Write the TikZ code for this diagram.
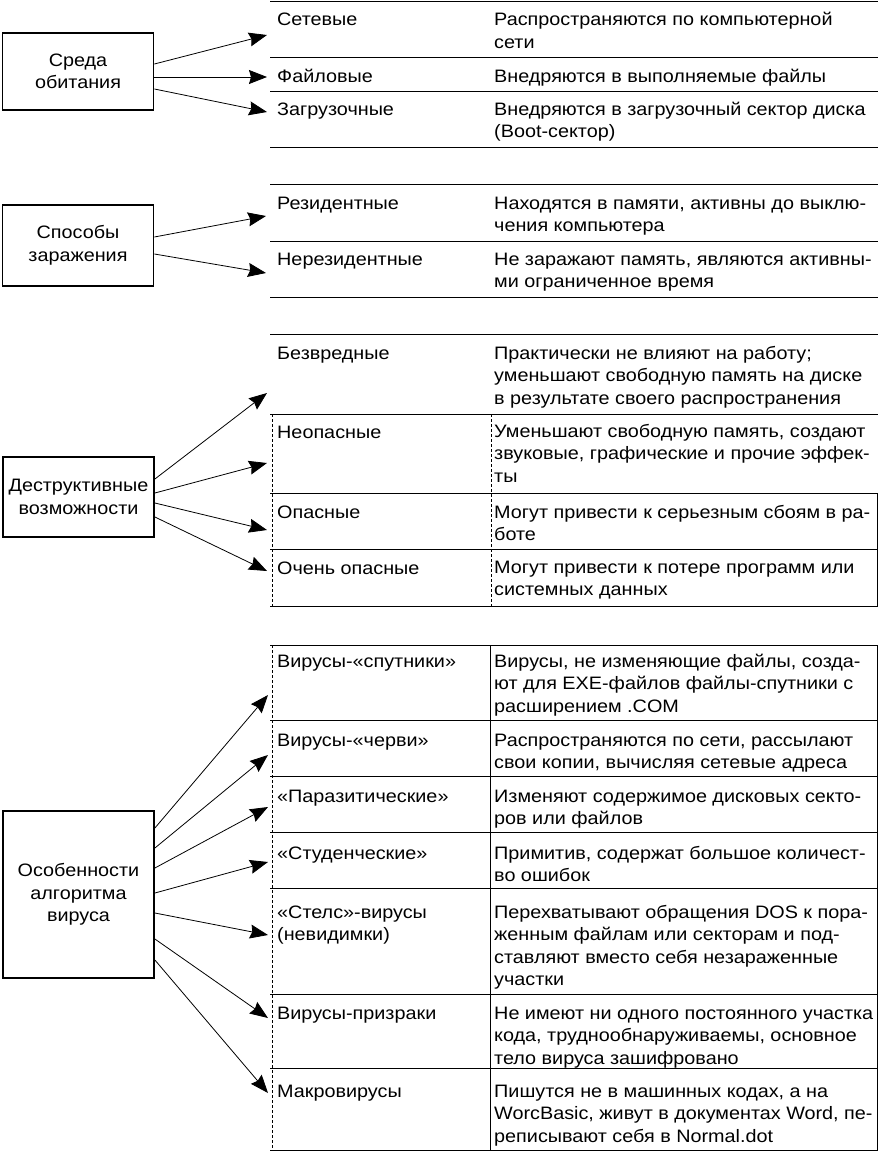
\documentclass[tikz,border=0pt]{standalone}
\usepackage{fontspec}
\setmainfont{Liberation Sans}[FakeStretch=1.1]
\usetikzlibrary{arrows.meta}
\newcommand\rws[1]{\begin{tabular}[t]{@{}l@{}}#1\end{tabular}}
\begin{document}
\begin{tikzpicture}[x=1pt,y=-1pt,
  every node/.style={font=\fontsize{18}{22.5}\selectfont, inner sep=0pt},
  catbox/.style={draw, line width=1.8pt, align=center, minimum width=151pt},
  lbl/.style={anchor=base west},
  rule/.style={line width=1pt},
  vrule/.style={line width=0.8pt},
  vdash/.style={line width=0.7pt, dash pattern=on 3pt off 2pt},
  conn/.style={line width=0.8pt, -{Stealth[length=18pt,width=14pt,inset=2pt]}},
]
\useasboundingbox (0,0) rectangle (881,1156);

% ---------------- Section 1
\node[catbox, minimum height=77pt] (env) at (78,71.5) {Среда\\обитания};
\foreach \y in {2,58,91,147} \draw[rule] (270,\y) -- (878,\y);
\node[lbl] (a1) at (277,26) {Сетевые};
\node[lbl] (a1d) at (494,26) {\rws{Распространяются по компьютерной\\сети}};
\node[lbl] (a2) at (277,82) {Файловые};
\node[lbl] (a2d) at (494,82) {\rws{Внедряются в выполняемые файлы}};
\node[lbl] (a3) at (277,115) {Загрузочные};
\node[lbl] (a3d) at (494,115) {\rws{Внедряются в загрузочный сектор диска\\(Boot-сектор)}};
\coordinate (ta1) at (267,35);
\coordinate (ta2) at (267,77);
\coordinate (ta3) at (267,112);
\draw[conn] ([yshift=7.5pt]env.east) -- (ta1);
\draw[conn] ([yshift=-5.5pt]env.east) -- (ta2);
\draw[conn] ([yshift=-17.5pt]env.east) -- (ta3);

% ---------------- Section 2
\node[catbox, minimum height=81pt] (inf) at (78,245.5) {Способы\\заражения};
\foreach \y in {184,241,297} \draw[rule] (270,\y) -- (878,\y);
\node[lbl] (b1) at (277,209) {Резидентные};
\node[lbl] (b1d) at (494,209) {\rws{Находятся в памяти, активны до выклю-\\чения компьютера}};
\node[lbl] (b2) at (277,265) {Нерезидентные};
\node[lbl] (b2d) at (494,265) {\rws{Не заражают память, являются активны-\\ми ограниченное время}};
\coordinate (tb1) at (266,216);
\coordinate (tb2) at (266,273);
\draw[conn] ([yshift=8.5pt]inf.east) -- (tb1);
\draw[conn] ([yshift=-8.5pt]inf.east) -- (tb2);

% ---------------- Section 3
\node[catbox, minimum height=80pt] (des) at (78.5,497) {Деструктивные\\возможности};
\foreach \y in {334,414,493,549,606} \draw[rule] (270,\y) -- (878,\y);
\draw[vdash] (272,414) -- (272,606);
\draw[vdash] (491,414) -- (491,606);
\draw[vrule] (877,493) -- (877,606);
\node[lbl] (c1) at (277,359) {Безвредные};
\node[lbl] (c1d) at (494,359) {\rws{Практически не влияют на работу;\\уменьшают свободную память на диске\\в результате своего распространения}};
\node[lbl] (c2) at (277,438) {Неопасные};
\node[lbl] (c2d) at (494,437) {\rws{Уменьшают свободную память, создают\\звуковые, графические и прочие эффек-\\ты}};
\node[lbl] (c3) at (277,518) {Опасные};
\node[lbl] (c3d) at (494,518) {\rws{Могут привести к серьезным сбоям в ра-\\боте}};
\node[lbl] (c4) at (277,574) {Очень опасные};
\node[lbl] (c4d) at (494,573) {\rws{Могут привести к потере программ или\\системных данных}};
\coordinate (tc1) at (267,393);
\coordinate (tc2) at (267,463);
\coordinate (tc3) at (267,530);
\coordinate (tc4) at (267,571);
\draw[conn] ([yshift=18pt]des.east) -- (tc1);
\draw[conn] ([yshift=4pt]des.east) -- (tc2);
\draw[conn] ([yshift=-6pt]des.east) -- (tc3);
\draw[conn] ([yshift=-20pt]des.east) -- (tc4);

% ---------------- Section 4
\node[catbox, minimum height=167pt] (alg) at (78.5,894.5) {Особенности\\алгоритма\\вируса};
\foreach \y in {645,720,776,832,888,994,1068,1150} \draw[rule] (270,\y) -- (878,\y);
\draw[vdash] (272,645) -- (272,1150);
\draw[vrule] (490,645) -- (490,1150);
\draw[vrule] (877,645) -- (877,1150);
\node[lbl] (d1) at (277,667) {Вирусы-«спутники»};
\node[lbl] (d1d) at (494,667) {\rws{Вирусы, не изменяющие файлы, созда-\\ют для EXE-файлов файлы-спутники с\\расширением .COM}};
\node[lbl] (d2) at (277,746) {Вирусы-«черви»};
\node[lbl] (d2d) at (494,746) {\rws{Распространяются по сети, рассылают\\свои копии, вычисляя сетевые адреса}};
\node[lbl] (d3) at (277,802) {«Паразитические»};
\node[lbl] (d3d) at (494,802) {\rws{Изменяют содержимое дисковых секто-\\ров или файлов}};
\node[lbl] (d4) at (277,859) {«Студенческие»};
\node[lbl] (d4d) at (494,859) {\rws{Примитив, содержат большое количест-\\во ошибок}};
\node[lbl] (d5) at (277,918) {\rws{«Стелс»-вирусы\\(невидимки)}};
\node[lbl] (d5d) at (494,918) {\rws{Перехватывают обращения DOS к пора-\\женным файлам или секторам и под-\\ставляют вместо себя незараженные\\участки}};
\node[lbl] (d6) at (277,1019) {Вирусы-призраки};
\node[lbl] (d6d) at (494,1019) {\rws{Не имеют ни одного постоянного участка\\кода, труднообнаруживаемы, основное\\тело вируса зашифровано}};
\node[lbl] (d7) at (277,1097) {Макровирусы};
\node[lbl] (d7d) at (494,1097) {\rws{Пишутся не в машинных кодах, а на\\WorcBasic, живут в документах Word, пе-\\реписывают себя в Normal.dot}};
\coordinate (td1) at (268,695);
\coordinate (td2) at (268,755);
\coordinate (td3) at (268,807);
\coordinate (td4) at (268,862);
\coordinate (td5) at (268,935);
\coordinate (td6) at (268,1018);
\coordinate (td7) at (268,1093);
\draw[conn] ([yshift=66.5pt]alg.east) -- (td1);
\draw[conn] ([yshift=46.5pt]alg.east) -- (td2);
\draw[conn] ([yshift=26.5pt]alg.east) -- (td3);
\draw[conn] ([yshift=1.5pt]alg.east) -- (td4);
\draw[conn] ([yshift=-18.5pt]alg.east) -- (td5);
\draw[conn] ([yshift=-44.5pt]alg.east) -- (td6);
\draw[conn] ([yshift=-65.5pt]alg.east) -- (td7);
\end{tikzpicture}
\end{document}
